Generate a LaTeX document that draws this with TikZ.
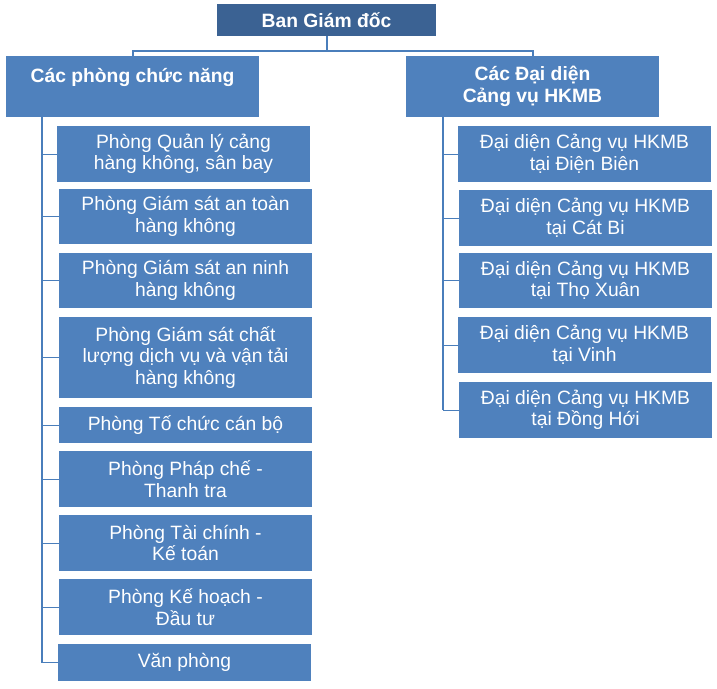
\documentclass[tikz,border=0pt]{standalone}
\usepackage{fontspec}
\setmainfont{Liberation Sans}
\definecolor{boxblue}{HTML}{4F81BD}
\definecolor{topblue}{HTML}{3B6293}
\definecolor{lineblue}{HTML}{4A7EBB}
\begin{document}
\begin{tikzpicture}[x=1pt,y=-1pt,
  base/.style={rectangle, inner sep=0pt, text=white, align=center,
    font=\fontsize{19.3}{21.5}\selectfont},
  unitbox/.style={base, fill=boxblue, minimum width=253pt},
  headbox/.style={unitbox, font=\fontsize{19.3}{21.5}\selectfont\bfseries},
  topbox/.style={base, fill=topblue, font=\fontsize{19.3}{21.5}\selectfont\bfseries},
  trunk/.style={draw=lineblue, line width=2pt},
  spine/.style={draw=lineblue, line width=2.6pt},
  branch/.style={draw=lineblue, line width=1pt}]
\useasboundingbox (0,0) rectangle (717,688);
% top
\node[topbox, minimum width=219pt, minimum height=32pt] (top) at (326.5,20) {Ban Giám đốc};
% main groups
\node[headbox, minimum height=61pt] (lmain) at (132.5,86.5) {Các phòng chức năng\\\mbox{}};
\node[headbox, minimum height=61pt] (rmain) at (532.5,86.5) {Các Đại diện\\Cảng vụ HKMB};
% left children
\node[unitbox, minimum height=56pt] (l1) at (183.5,154) {Phòng Quản lý cảng\\hàng không, sân bay};
\node[unitbox, minimum height=55pt] (l2) at (185.5,216.5) {Phòng Giám sát an toàn\\hàng không};
\node[unitbox, minimum height=55pt] (l3) at (185.5,280.5) {Phòng Giám sát an ninh\\hàng không};
\node[unitbox, minimum height=81pt] (l4) at (185.5,357.5) {Phòng Giám sát chất\\lượng dịch vụ và vận tải\\hàng không};
\node[unitbox, minimum height=36pt] (l5) at (185.5,425) {Phòng Tố chức cán bộ};
\node[unitbox, minimum height=56pt] (l6) at (185.5,479) {Phòng Pháp chế -\\Thanh tra};
\node[unitbox, minimum height=56pt] (l7) at (185.5,543) {Phòng Tài chính -\\Kế toán};
\node[unitbox, minimum height=56pt] (l8) at (185.5,607) {Phòng Kế hoạch -\\Đầu tư};
\node[unitbox, minimum height=37pt] (l9) at (184.5,662.5) {Văn phòng};
% right children
\node[unitbox, minimum height=56pt] (r1) at (584.5,154) {Đại diện Cảng vụ HKMB\\tại Điện Biên};
\node[unitbox, minimum height=56pt] (r2) at (585.5,218) {Đại diện Cảng vụ HKMB\\tại Cát Bi};
\node[unitbox, minimum height=55pt] (r3) at (585.5,280.5) {Đại diện Cảng vụ HKMB\\tại Thọ Xuân};
\node[unitbox, minimum height=56pt] (r4) at (584.5,345) {Đại diện Cảng vụ HKMB\\tại Vinh};
\node[unitbox, minimum height=56pt] (r5) at (585.5,410) {Đại diện Cảng vụ HKMB\\tại Đồng Hới};
% connectors from top
\coordinate (hbar) at (0,51);
\draw[trunk] (top.south) -- (top.south |- hbar);
\draw[trunk] (lmain.north) -- (lmain.north |- hbar) -- (rmain.north |- hbar) -- (rmain.north);
% left spine
\coordinate (lspine) at (42,117);
\draw[spine] (lspine) -- (lspine |- l9.west);
\foreach \i in {1,...,9} \draw[branch] (lspine |- l\i.west) -- (l\i.west);
% right spine
\coordinate (rspine) at (443,117);
\draw[spine] (rspine) -- (rspine |- r5.west);
\foreach \i in {1,...,5} \draw[branch] (rspine |- r\i.west) -- (r\i.west);
\end{tikzpicture}
\end{document}
